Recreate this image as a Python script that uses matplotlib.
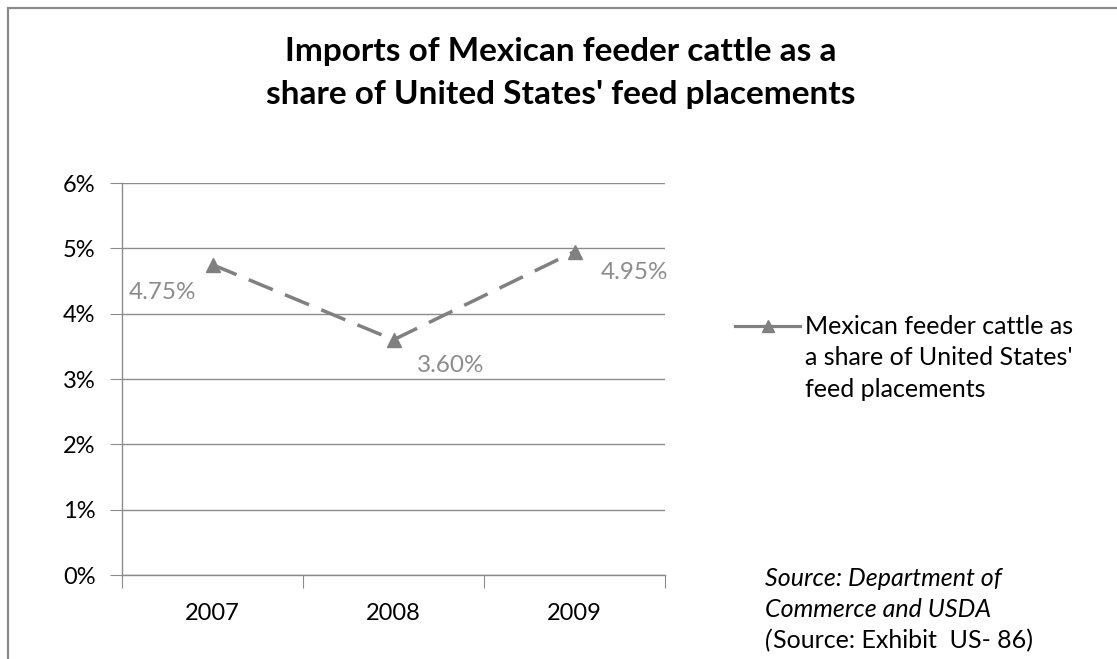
import matplotlib.pyplot as plt
from matplotlib.lines import Line2D
from matplotlib.patches import Rectangle

years = ["2007", "2008", "2009"]
share = [4.75, 3.60, 4.95]
value_labels = ["4.75%", "3.60%", "4.95%"]
y_ticks = [0, 1, 2, 3, 4, 5, 6]
y_tick_labels = ["0%", "1%", "2%", "3%", "4%", "5%", "6%"]
series_name = "Mexican feeder cattle as\na share of United States'\nfeed placements"
title = "Imports of Mexican feeder cattle as a\nshare of United States' feed placements"
source_lines = ["Source: Department of", "Commerce and USDA"]
source_last = "Source: Exhibit  US- 86)"

W, H = 1117, 659
FONT = "Lato"
LINE_C = "#808080"
GRID_C = "#8c8c8c"
LABEL_C = "#8c8c8c"


def fx(px):
    return px / W


def fy(py):
    return 1 - py / H


fig = plt.figure(figsize=(W / 100, H / 100), dpi=100)

# outer chart border (runs off the right and bottom edges)
fig.add_artist(Rectangle((fx(8), fy(700)), fx(1200), 692 / H, transform=fig.transFigure,
                         fill=False, edgecolor="#8a8a8a", linewidth=1.6))

fig.text(fx(561), fy(73), title, ha="center", va="center", fontsize=24,
         fontweight="bold", family=FONT, linespacing=1.62)

ax = fig.add_axes([fx(122), fy(575), fx(665) - fx(122), (575 - 183) / H])
x = list(range(len(years)))
line, = ax.plot(x, share, color=LINE_C, linewidth=2.5, marker="^", markersize=10.5,
                markeredgecolor=LINE_C, markerfacecolor=LINE_C)
line.set_dashes((7.5, 3.8))

offsets = [(-84, -28), (23, -26), (26, -21)]
for xi, yi, lab, off in zip(x, share, value_labels, offsets):
    ax.annotate(lab, (xi, yi), xytext=off, textcoords="offset pixels",
                ha="left", va="center", color=LABEL_C, fontsize=17.5, family=FONT)

ax.set_xlim(-0.5, 2.5)
ax.set_ylim(0, 6)
ax.set_yticks(y_ticks)
ax.set_yticklabels(y_tick_labels, family=FONT, fontsize=17)
ax.set_xticks([-0.5, 0.5, 1.5, 2.5])
ax.set_xticklabels([])
ax.set_xticks(x, minor=True)
ax.set_xticklabels(years, minor=True, family=FONT, fontsize=17)
ax.tick_params(axis="x", which="major", length=9, color=GRID_C, direction="out")
ax.tick_params(axis="x", which="minor", length=0, pad=20)
ax.tick_params(axis="y", length=9, color=GRID_C, pad=10)
ax.grid(axis="y", color=GRID_C, linewidth=1)
ax.set_axisbelow(True)
for s in ["top", "right"]:
    ax.spines[s].set_visible(False)
for s in ["left", "bottom"]:
    ax.spines[s].set_color(GRID_C)
    ax.spines[s].set_linewidth(1)

# legend drawn by hand so the key sits on the first text line
fig.add_artist(Line2D([fx(735), fx(800)], [fy(326), fy(326)], transform=fig.transFigure,
                      color=LINE_C, linewidth=2.3))
fig.add_artist(Line2D([fx(768)], [fy(326)], transform=fig.transFigure, color=LINE_C,
                      marker="^", markersize=8, linestyle="none"))
fig.text(fx(805), fy(358), series_name, ha="left", va="center", fontsize=18,
         family=FONT, linespacing=1.45)

for i, s in enumerate(source_lines):
    fig.text(fx(765), fy(578 + 31.5 * i), s, ha="left", va="center",
             fontsize=18, family=FONT, style="italic")
fig.text(fx(765), fy(641), "(", ha="left", va="center", fontsize=18, family=FONT,
         style="italic")
fig.text(fx(773), fy(641), source_last, ha="left", va="center", fontsize=18, family=FONT)

fig.savefig("out.png", dpi=100)
